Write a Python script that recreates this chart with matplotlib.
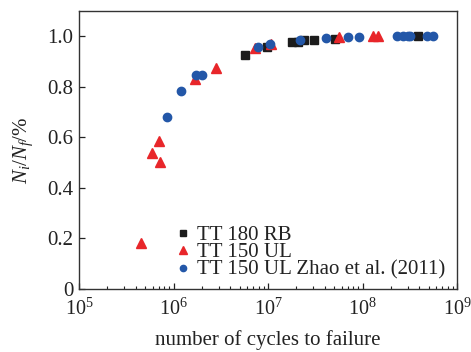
import matplotlib
matplotlib.use("Agg")
import matplotlib.pyplot as plt
from matplotlib.ticker import LogLocator, NullFormatter, FixedLocator

plt.rcParams["font.family"] = ["Liberation Serif", "DejaVu Serif"]
plt.rcParams["mathtext.fontset"] = "custom"
plt.rcParams["mathtext.rm"] = "Liberation Serif"
plt.rcParams["mathtext.it"] = "Liberation Serif:italic"
plt.rcParams["mathtext.bf"] = "Liberation Serif:bold"

# TT 180 RB
rb_cycles = [5.7e6, 9.7e6, 1.78e7, 2.1e7, 2.4e7, 3.1e7, 5.1e7, 3.9e8]
rb_ratio = [0.925, 0.958, 0.979, 0.976, 0.984, 0.987, 0.989, 1.0]

# TT 150 UL
ul_cycles = [4.5e5, 5.9e5, 7.1e5, 7.2e5, 1.69e6, 2.8e6, 7.3e6, 1.07e7, 5.6e7, 1.3e8, 1.46e8]
ul_ratio = [0.183, 0.537, 0.586, 0.503, 0.83, 0.875, 0.955, 0.971, 0.997, 1.0, 1.0]

# TT 150 UL Zhao et al. (2011)
zhao_cycles = [8.5e5, 1.19e6, 1.72e6, 2.0e6, 7.8e6, 1.05e7, 2.2e7, 4.1e7, 7.1e7,
               9.2e7, 2.3e8, 2.7e8, 3.0e8, 3.2e8, 4.8e8, 5.6e8]
zhao_ratio = [0.679, 0.783, 0.846, 0.846, 0.957, 0.971, 0.987, 0.993, 0.997,
              0.997, 1.0, 1.0, 1.0, 1.0, 1.0, 1.0]

series_labels = ["TT 180 RB", "TT 150 UL", "TT 150 UL Zhao et al. (2011)"]
y_ticks = [0, 0.2, 0.4, 0.6, 0.8, 1.0]
y_tick_labels = ["0", "0.2", "0.4", "0.6", "0.8", "1.0"]

fig = plt.figure(figsize=(4.71, 3.52), dpi=100)
ax = fig.add_axes([79 / 471, 1 - 289 / 352, (457 - 79) / 471, (289 - 11) / 352])

ax.plot(rb_cycles, rb_ratio, "s", color="#1c1c1c", ms=5.2, ls="none", label=series_labels[0])
ax.plot(ul_cycles, ul_ratio, "^", color="#e8262a", ms=7, ls="none", label=series_labels[1])
ax.plot(zhao_cycles, zhao_ratio, "o", color="#2357a8", ms=6, ls="none", label=series_labels[2])

ax.set_xscale("log")
ax.set_xlim(1e5, 1e9)
ax.set_ylim(0, 1.1)
ax.xaxis.set_major_locator(LogLocator(base=10, numticks=10))
ax.xaxis.set_minor_locator(LogLocator(base=10, subs=range(2, 10), numticks=50))
ax.xaxis.set_minor_formatter(NullFormatter())
ax.yaxis.set_major_locator(FixedLocator(y_ticks))
ax.set_yticklabels(y_tick_labels)

ax.tick_params(axis="both", which="major", direction="in", length=4, width=0.9,
               top=False, right=False, colors="#222222")
ax.tick_params(axis="y", which="major", labelsize=15, pad=4)
ax.tick_params(axis="x", which="major", labelsize=14.5, pad=7)
ax.tick_params(axis="x", which="minor", direction="in", length=2.5, width=0.8,
               top=False, colors="#222222")
for s in ax.spines.values():
    s.set_linewidth(1.0)
    s.set_color("#333333")

ax.set_xlabel("number of cycles to failure", fontsize=15, color="#222222", labelpad=7)
ax.set_ylabel(r"$N_i/N_f$/%", fontsize=15, color="#222222", labelpad=9)

leg = ax.legend(loc="lower left", bbox_to_anchor=(0.22, -0.02), frameon=False,
                fontsize=15, handlelength=0.6, handletextpad=0.35, labelspacing=-0.1,
                borderpad=0.2, markerscale=0.75)
for t in leg.get_texts():
    t.set_color("#222222")

fig.savefig("out.png", dpi=100)
